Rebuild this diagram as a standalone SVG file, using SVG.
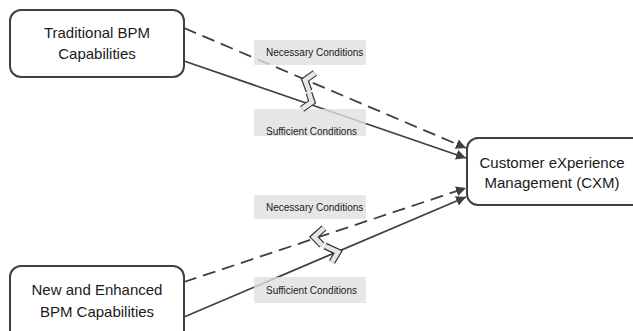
<svg xmlns="http://www.w3.org/2000/svg" width="633" height="331" viewBox="0 0 633 331">
<defs>
<style>
.box{fill:#fff;stroke:#404040;stroke-width:2}
.t{font-family:"Liberation Sans",Arial,sans-serif;font-size:15px;fill:#1a1a1a;text-anchor:middle}
.lbl{font-family:"Liberation Sans",Arial,sans-serif;font-size:10px;fill:#1a1a1a}
.lr{fill:#e0e0e0;fill-opacity:0.8}
.ln{stroke:#404040;stroke-width:1.8;fill:none}
.dash{stroke-dasharray:13 7}
.bo{fill:none;stroke:#333;stroke-width:7;stroke-linejoin:miter}
.bi{fill:none;stroke:#e6e6e6;stroke-width:4.6;stroke-linejoin:miter}
</style>
<marker id="ah" viewBox="0 0 10 10" refX="10" refY="5" markerWidth="10" markerHeight="10" markerUnits="userSpaceOnUse" orient="auto">
<path d="M0,0 L10,5 L0,10 Z" fill="#404040"/>
</marker>
</defs>
<g id="connectors">
<line class="ln dash" x1="184" y1="28" x2="466" y2="148" marker-end="url(#ah)"/>
<line class="ln" x1="184" y1="61" x2="466" y2="158" marker-end="url(#ah)"/>
<line class="ln dash" x1="184" y1="282" x2="466" y2="188" marker-end="url(#ah)"/>
<line class="ln" x1="184" y1="317" x2="466" y2="197" marker-end="url(#ah)"/>
</g>
<g id="labels">
<rect class="lr" x="254" y="40" width="112" height="25"/>
<text class="lbl" x="266" y="56">Necessary Conditions</text>
<rect class="lr" x="254" y="109" width="112" height="27"/>
<text class="lbl" x="266" y="135">Sufficient Conditions</text>
<rect class="lr" x="254" y="195" width="112" height="24"/>
<text class="lbl" x="266" y="211">Necessary Conditions</text>
<rect class="lr" x="254" y="277" width="112" height="26"/>
<text class="lbl" x="266" y="294">Sufficient Conditions</text>
</g>
<g id="break-upper">
<polyline class="bo" points="315,73 305,80 309,91"/>
<polyline class="bi" points="315,73 305,80 309,91"/>
<polyline class="bo" points="309,93 312,102 302,109"/>
<polyline class="bi" points="309,93 312,102 302,109"/>
</g>
<g id="break-lower">
<polyline class="bo" points="324,228 314,237 322,245"/>
<polyline class="bi" points="324,228 314,237 322,245"/>
<polyline class="bo" points="325,246 338,252 332,262"/>
<polyline class="bi" points="325,246 338,252 332,262"/>
</g>
<g id="node-traditional">
<rect class="box" x="10" y="10" width="174" height="67" rx="11"/>
<text class="t" x="97" y="38">Traditional BPM</text>
<text class="t" x="97" y="59">Capabilities</text>
</g>
<g id="node-cxm">
<rect class="box" x="467" y="138" width="180" height="67" rx="11"/>
<text class="t" x="552" y="168">Customer eXperience</text>
<text class="t" x="552" y="188">Management (CXM)</text>
</g>
<g id="node-new">
<rect class="box" x="10" y="266" width="174" height="76" rx="11"/>
<text class="t" x="97" y="295">New and Enhanced</text>
<text class="t" x="97" y="317">BPM Capabilities</text>
</g>
</svg>
